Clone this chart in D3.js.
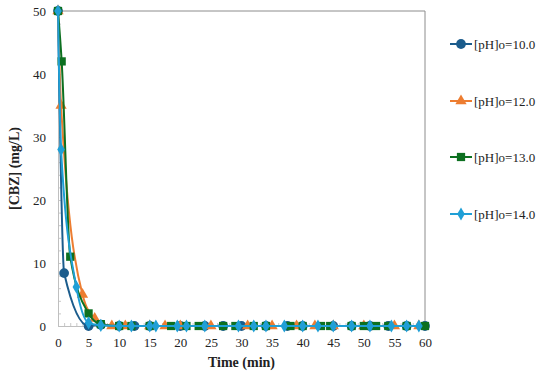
<!DOCTYPE html>
<html>
<head>
<meta charset="utf-8">
<script src="https://cdn.jsdelivr.net/npm/d3@7"></script>
<style>
  body { margin: 0; background: #fff; }
  svg text { font-family: "Liberation Serif", "Times New Roman", serif; }
</style>
</head>
<body>
<svg id="chart" width="550" height="376"></svg>
<script>
const seriesNames = ['[pH]o=10.0', '[pH]o=12.0', '[pH]o=13.0', '[pH]o=14.0'];
const seriesColors = ['#1b5c8c', '#ed7d31', '#0d7020', '#1f9fd6'];
const seriesSymbols = ['circle', 'triangle', 'square', 'diamond'];

// [time (min), concentration (mg/L)]
const ph10 = [[0, 50], [1, 8.4], [5, 0], [7, 0.2], [10, 0], [12.5, 0], [15, 0], [20, 0], [24, 0], [27, 0],
  [30, 0], [34, 0], [37.5, 0], [40, 0], [45, 0], [48, 0], [51, 0], [54, 0], [57, 0], [60, 0]];
const ph12 = [[0, 50], [0.5, 35], [4, 5], [6, 1.2], [8.8, 0], [11, 0], [15, 0], [17.5, 0], [20, 0], [25, 0],
  [31, 0], [35, 0], [39, 0], [42, 0], [45, 0], [50, 0], [55, 0], [59, 0]];
const ph13 = [[0, 50], [0.6, 42], [2, 11], [5, 2], [7, 0.3], [10, 0], [12, 0], [15, 0], [18.5, 0], [21, 0],
  [23, 0], [27, 0], [29, 0], [32, 0], [34, 0], [38, 0], [40, 0], [43, 0], [44.5, 0], [48, 0], [50, 0],
  [52, 0], [54, 0], [57, 0], [60, 0]];
const ph14 = [[0, 50], [0.5, 28], [3, 6.2], [5, 0.5], [7, 0.1], [10, 0], [12, 0], [15, 0], [16, 0], [19.5, 0],
  [21, 0], [24, 0], [29.5, 0], [32, 0], [34, 0], [37, 0], [40, 0], [42.5, 0], [45, 0], [48, 0], [51, 0],
  [54.5, 0], [57, 0], [59, 0]];
const allSeries = [ph10, ph12, ph13, ph14];

const xTicks = d3.range(0, 61, 5);
const yTicks = d3.range(0, 51, 10);
const xMinor = d3.range(0, 61, 1);
const yMinor = d3.range(0, 51, 2);

const margin = { left: 58, right: 125, top: 11, bottom: 50 };
const width = 550, height = 376;
const svg = d3.select('#chart');

const x = d3.scaleLinear().domain([0, 60]).range([margin.left, width - margin.right]);
const y = d3.scaleLinear().domain([0, 50]).range([height - margin.bottom, margin.top]);

// frame (top and right)
svg.append('path')
  .attr('d', `M${x(0)},${y(50)}H${x(60)}V${y(0)}`)
  .attr('fill', 'none')
  .attr('stroke', '#8c8c8c')
  .attr('stroke-width', 1);

// minor ticks, inward
svg.append('g')
  .attr('transform', `translate(0,${y(0)})`)
  .call(d3.axisBottom(x).tickValues(xMinor).tickSize(-3).tickFormat(''))
  .call(g => g.select('.domain').remove())
  .call(g => g.selectAll('line').attr('stroke', '#c8c8c8'));
svg.append('g')
  .attr('transform', `translate(${x(0)},0)`)
  .call(d3.axisLeft(y).tickValues(yMinor).tickSize(-3).tickFormat(''))
  .call(g => g.select('.domain').remove())
  .call(g => g.selectAll('line').attr('stroke', '#c8c8c8'));

// axes
const xAxis = svg.append('g')
  .attr('transform', `translate(0,${y(0)})`)
  .call(d3.axisBottom(x).tickValues(xTicks).tickSize(0).tickPadding(12).tickSizeOuter(0));
const yAxis = svg.append('g')
  .attr('transform', `translate(${x(0)},0)`)
  .call(d3.axisLeft(y).tickValues(yTicks).tickSize(0).tickPadding(12).tickSizeOuter(0));
[xAxis, yAxis].forEach(a => {
  a.select('.domain').attr('stroke', '#bfbfbf');
  a.selectAll('text').attr('font-size', 13).attr('fill', '#222')
    .style('font-family', '"Liberation Serif", serif');
});

// axis titles
svg.append('text')
  .attr('x', x(30)).attr('y', 367)
  .attr('text-anchor', 'middle')
  .attr('font-size', 14).attr('font-weight', 'bold').attr('fill', '#222')
  .text('Time (min)');
svg.append('text')
  .attr('transform', `translate(19,${(y(0) + y(50)) / 2}) rotate(-90)`)
  .attr('text-anchor', 'middle')
  .attr('font-size', 14).attr('font-weight', 'bold').attr('fill', '#222')
  .text('[CBZ] (mg/L)');

const symbolType = {
  circle: d3.symbolCircle,
  triangle: d3.symbolTriangle,
  square: d3.symbolSquare,
  diamond: d3.symbolDiamond
};
const symbolSize = { circle: 75, triangle: 55, square: 68, diamond: 50 };

const line = d3.line()
  .x(d => x(d[0]))
  .y(d => y(d[1]))
  .curve(d3.curveMonotoneX);

const plot = svg.append('g');
allSeries.forEach((data, i) => {
  const g = plot.append('g');
  g.append('path')
    .datum(data)
    .attr('d', line)
    .attr('fill', 'none')
    .attr('stroke', seriesColors[i])
    .attr('stroke-width', 2);
  g.selectAll('path.marker')
    .data(data)
    .enter()
    .append('path')
    .attr('class', 'marker')
    .attr('transform', d => `translate(${x(d[0])},${y(d[1])})`)
    .attr('d', d3.symbol().type(symbolType[seriesSymbols[i]]).size(symbolSize[seriesSymbols[i]]))
    .attr('fill', seriesColors[i]);
});

// legend
const legendY = [44, 101, 157, 214];
const legend = svg.append('g');
seriesNames.forEach((name, i) => {
  const g = legend.append('g').attr('transform', `translate(450,${legendY[i]})`);
  g.append('line')
    .attr('x1', 0).attr('x2', 22)
    .attr('stroke', seriesColors[i]).attr('stroke-width', 2);
  g.append('path')
    .attr('transform', 'translate(11,0)')
    .attr('d', d3.symbol().type(symbolType[seriesSymbols[i]]).size(symbolSize[seriesSymbols[i]]))
    .attr('fill', seriesColors[i]);
  g.append('text')
    .attr('x', 24).attr('y', 4.5)
    .attr('font-size', 13).attr('fill', '#222')
    .text(name);
});
</script>
</body>
</html>
